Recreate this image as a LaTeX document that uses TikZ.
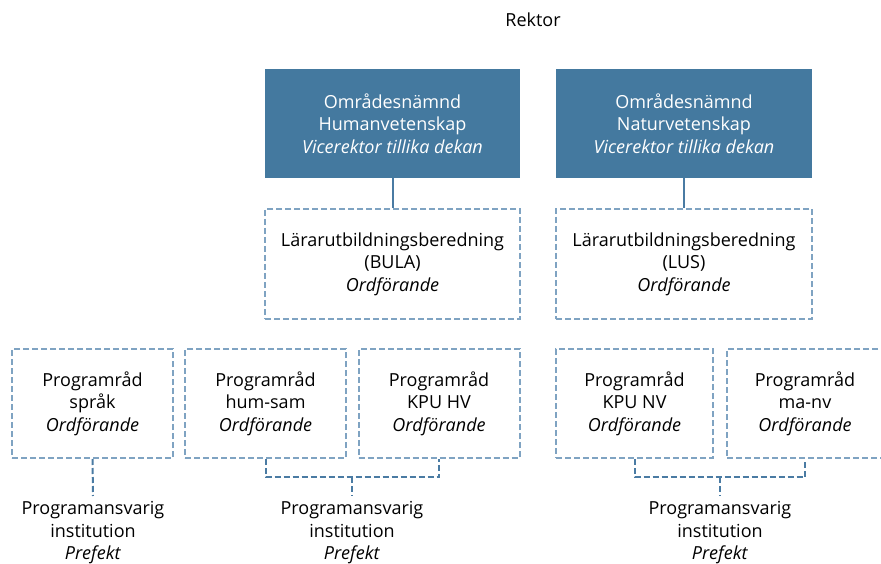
\documentclass[tikz,border=0pt]{standalone}
\usepackage{fontspec}
\setmainfont{Open Sans}
\definecolor{boxblue}{HTML}{44799F}
\definecolor{dashblue}{HTML}{7FA3C2}
\definecolor{linkblue}{HTML}{4A7BA3}
\begin{document}
\begin{tikzpicture}[x=1pt,y=-1pt,
  every node/.style={font=\fontsize{18}{22.5}\selectfont, align=center, inner sep=0pt},
  solidbox/.style={fill=boxblue, text=white, draw=none},
  dashbox/.style={draw=dashblue, line width=2pt, dash pattern=on 6pt off 3pt, fill=white},
  link/.style={draw=linkblue, line width=2pt},
  dlink/.style={draw=linkblue, line width=2pt, dash pattern=on 6pt off 3pt}]
\useasboundingbox (0,0) rectangle (881,564);
\node (rektor) at (533,20) {Rektor};
% top boxes
\node[solidbox, minimum width=255pt, minimum height=109pt] (hv) at (392.5,123.5) {Områdesnämnd\\Humanvetenskap\\\textit{Vicerektor tillika dekan}};
\node[solidbox, minimum width=256pt, minimum height=109pt] (nv) at (684,123.5) {Områdesnämnd\\Naturvetenskap\\\textit{Vicerektor tillika dekan}};
\node[dashbox, minimum width=255pt, minimum height=110pt] (bula) at (392.5,264) {Lärarutbildningsberedning\\(BULA)\\\textit{Ordförande}};
\node[dashbox, minimum width=256pt, minimum height=110pt] (lus) at (684,264) {Lärarutbildningsberedning\\(LUS)\\\textit{Ordförande}};
\draw[link] (hv.south) -- (bula.north);
\draw[link] (nv.south) -- (lus.north);
% bottom boxes
\node[dashbox, minimum width=161pt, minimum height=109pt] (sprak) at (92.5,403.5) {Programråd\\språk\\\textit{Ordförande}};
\node[dashbox, minimum width=161pt, minimum height=109pt] (humsam) at (265.5,403.5) {Programråd\\hum-sam\\\textit{Ordförande}};
\node[dashbox, minimum width=161pt, minimum height=109pt] (kpuhv) at (439,403.5) {Programråd\\KPU HV\\\textit{Ordförande}};
\node[dashbox, minimum width=157pt, minimum height=109pt] (kpunv) at (634.5,403.5) {Programråd\\KPU NV\\\textit{Ordförande}};
\node[dashbox, minimum width=156pt, minimum height=109pt] (manv) at (805,403.5) {Programråd\\ma-nv\\\textit{Ordförande}};
% institution labels
\node (inst1) at (93,533) {Programansvarig\\institution\\\textit{Prefekt}};
\node (inst2) at (352,533) {Programansvarig\\institution\\\textit{Prefekt}};
\node (inst3) at (720,533) {Programansvarig\\institution\\\textit{Prefekt}};
% connectors
\coordinate (b1) at (352,477);
\coordinate (b2) at (720,477);
\coordinate (e1) at (93,496);
\coordinate (e2) at (352,496);
\coordinate (e3) at (720,496);
\draw[dlink] (sprak.south) -- (e1);
\draw[dlink] (humsam.south) |- (b1) -| (kpuhv.south);
\draw[dlink] (b1) -- (e2);
\draw[dlink] (kpunv.south) |- (b2) -| (manv.south);
\draw[dlink] (b2) -- (e3);
\end{tikzpicture}
\end{document}
